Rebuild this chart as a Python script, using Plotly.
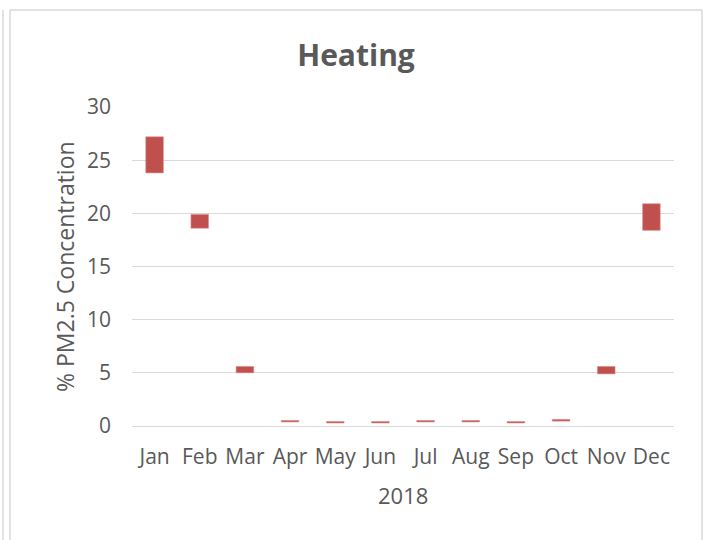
import plotly.graph_objects as go

months = ["Jan", "Feb", "Mar", "Apr", "May", "Jun", "Jul", "Aug", "Sep", "Oct", "Nov", "Dec"]
low = [23.8, 18.6, 5.0, 0.38, 0.28, 0.28, 0.38, 0.38, 0.28, 0.46, 4.9, 18.4]
high = [27.2, 19.9, 5.6, 0.52, 0.42, 0.42, 0.52, 0.52, 0.42, 0.62, 5.6, 20.9]
y_ticks = [0, 5, 10, 15, 20, 25, 30]

W, H = 704, 540
L, R, T, B = 132, 30, 107, 114
pw = W - L - R
ph = H - T - B

def px(x):
    return (x - L) / pw

def py(y):
    return (H - B - y) / ph

fig = go.Figure()
fig.add_trace(go.Bar(
    x=months,
    base=low,
    y=[h - l for h, l in zip(high, low)],
    width=0.39,
    marker=dict(color="#C0504D", line=dict(color="#D98E8C", width=0.6)),
    showlegend=False,
))

gray = "#595959"
FONT = "Open Sans, Liberation Sans, sans-serif"
fig.update_layout(
    width=W, height=H,
    margin=dict(l=L, r=R, t=T, b=B),
    paper_bgcolor="white",
    plot_bgcolor="white",
    font=dict(family=FONT, color=gray, size=21),
    title=dict(text="<b>Heating</b>", x=356 / W, xanchor="center", y=1 - 55 / H, yanchor="middle",
               font=dict(size=30, color=gray)),
    xaxis=dict(
        tickfont=dict(size=21, color=gray),
        showline=True, linecolor="#D9D9D9", linewidth=1,
        showgrid=False, ticks="", ticklabelstandoff=12,
    ),
    yaxis=dict(
        range=[0, 30],
        tickvals=y_ticks,
        tickfont=dict(size=21, color=gray),
        showgrid=True, gridcolor="#D9D9D9", gridwidth=1,
        zeroline=False, showline=False, ticks="", ticklabelstandoff=20,
    ),
    annotations=[
        dict(text="2018", xref="paper", yref="paper", x=px(403), y=py(495),
             xanchor="center", yanchor="middle", showarrow=False,
             font=dict(size=22, color=gray, family=FONT)),
        dict(text="% PM2.5 Concentration", xref="paper", yref="paper", x=px(65), y=py(267),
             xanchor="center", yanchor="middle", showarrow=False, textangle=-90,
             font=dict(size=23, color=gray, family=FONT)),
    ],
    shapes=[
        dict(type="rect", xref="paper", yref="paper",
             x0=px(10), x1=px(702), y0=py(548), y1=py(10),
             line=dict(color="#D9D9D9", width=1.5), fillcolor="rgba(0,0,0,0)", layer="below"),
        dict(type="line", xref="paper", yref="paper",
             x0=px(3), x1=px(3), y0=py(548), y1=py(10),
             line=dict(color="#D9D9D9", width=1.5)),
    ],
)

fig.write_html("out.html", config={"displayModeBar": False},
               post_script="document.body.style.margin='0';")
